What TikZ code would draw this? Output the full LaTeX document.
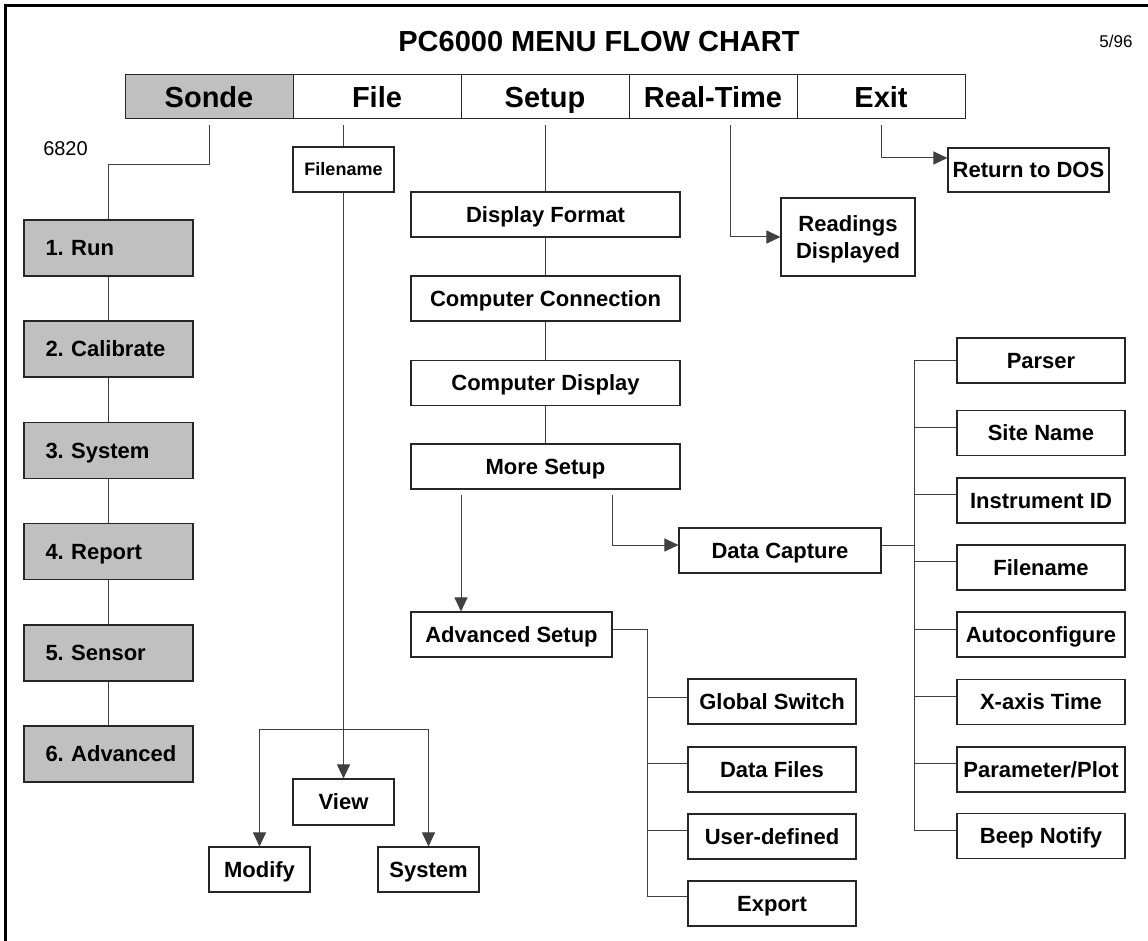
\documentclass[tikz,border=0pt]{standalone}
\usepackage{fontspec}
\setmainfont{Liberation Sans}
\usetikzlibrary{arrows.meta}
\definecolor{menugray}{HTML}{C0C0C0}
\begin{document}
\frenchspacing
\hyphenpenalty=10000
\hbadness=10000
\hfuzz=20pt
\begin{tikzpicture}[x=1pt,y=-1pt,
  box/.style={draw=black!85, line width=1.1pt, fill=white, minimum height=45pt, inner sep=0pt,
    text height=15.8pt, text depth=0pt,
    font=\fontsize{22}{27}\selectfont\bfseries},
  gbox/.style={box, fill=menugray, minimum height=56pt, text width=126pt, inner xsep=21.5pt, align=left},
  menu/.style={draw=black!85, line width=1pt, minimum width=168pt, minimum height=44pt, inner sep=0pt,
    text height=20.8pt, text depth=0pt,
    font=\fontsize{29}{32}\selectfont\bfseries},
  conn/.style={draw=black!75, line width=1pt},
  arr/.style={conn, -{Triangle[length=14pt,width=13pt]}},
  ]
\useasboundingbox (0,0) rectangle (1148,941);
% frame
\draw[line width=3pt] (5.5,941) -- (5.5,5.5) -- (1148,5.5);
% title
\node[font=\fontsize{29}{32}\selectfont\bfseries] (title) at (599,42) {PC6000 MENU FLOW CHART};
\node[font=\fontsize{17}{20}\selectfont] (date) at (1116,41) {5/96};
\node[font=\fontsize{20}{24}\selectfont] (model) at (65.5,149) {6820};
% menu bar
\node[menu, fill=menugray] (sonde) at (209,97) {Sonde};
\node[menu] (file) at (377,97) {File};
\node[menu] (setup) at (545,97) {Setup};
\node[menu] (rt) at (713,97) {Real-Time};
\node[menu] (exit) at (881,97) {Exit};
% Sonde column
\node[gbox] (s1) at (108.5,248) {1.~Run};
\node[gbox] (s2) at (108.5,349) {2.~Calibrate};
\node[gbox] (s3) at (108.5,450.5) {3.~System};
\node[gbox] (s4) at (108.5,551.5) {4.~Report};
\node[gbox] (s5) at (108.5,653) {5.~Sensor};
\node[gbox] (s6) at (108.5,754) {6.~Advanced};
\draw[conn] (209,125) -- (209,165) -| (s1.north);
\draw[conn] (s1.south) -- (s2.north);
\draw[conn] (s2.south) -- (s3.north);
\draw[conn] (s3.south) -- (s4.north);
\draw[conn] (s4.south) -- (s5.north);
\draw[conn] (s5.south) -- (s6.north);
% File column
\node[box, minimum width=101pt, text height=12.9pt, font=\fontsize{18}{20}\selectfont\bfseries] (fname) at (343.5,169.5) {Filename};
\node[box, minimum width=101pt, minimum height=46pt] (view) at (343.5,802) {View};
\node[box, minimum width=101pt] (modify) at (259.5,869.5) {Modify};
\node[box, minimum width=101pt] (fsys) at (428.5,869.5) {System};
\draw[conn] (343.5,125) -- (fname.north);
\draw[arr] (fname.south) -- (view.north);
\coordinate (fb) at (343.5,729);
\draw[arr] (fb) -| (modify.north);
\draw[arr] (fb) -| (fsys.north);
% Setup column
\node[box, minimum width=269pt] (df) at (545.5,214.5) {Display Format};
\node[box, minimum width=269pt] (cc) at (545.5,298.5) {Computer Connection};
\node[box, minimum width=269pt] (cd) at (545.5,383) {Computer Display};
\node[box, minimum width=269pt] (ms) at (545.5,466.5) {More Setup};
\draw[conn] (545.5,125) -- (df.north);
\draw[conn] (df.south) -- (cc.north);
\draw[conn] (cc.south) -- (cd.north);
\draw[conn] (cd.south) -- (ms.north);
\node[box, minimum width=201pt] (adv) at (511.5,634.5) {Advanced Setup};
\node[box, minimum width=202pt] (dc) at (780,550.5) {Data Capture};
\draw[arr] (461,495) -- (adv.north -| 461,0);
\draw[arr] (612,495) |- (dc.west |- 0,545);
% Advanced setup branches
\node[box, minimum width=168pt] (gs) at (772,701.5) {Global Switch};
\node[box, minimum width=168pt] (dfiles) at (772,769.5) {Data Files};
\node[box, minimum width=168pt] (ud) at (772,836.5) {User-defined};
\node[box, minimum width=168pt] (exp) at (772,903.5) {Export};
\draw[conn] (adv.east |- 0,629) -| (647,896);
\draw[conn] (647,697) -- (gs.west |- 0,697);
\draw[conn] (647,763) -- (dfiles.west |- 0,763);
\draw[conn] (647,830) -- (ud.west |- 0,830);
\draw[conn] (647,896) -- (exp.west |- 0,896);
% Data capture branches
\node[box, minimum width=168pt] (parser) at (1041,360.5) {Parser};
\node[box, minimum width=168pt] (site) at (1041,433) {Site Name};
\node[box, minimum width=168pt] (inst) at (1041,500.5) {Instrument ID};
\node[box, minimum width=168pt] (dfn) at (1041,567.5) {Filename};
\node[box, minimum width=168pt] (auto) at (1041,634.5) {Autoconfigure};
\node[box, minimum width=168pt] (xax) at (1041,702) {X-axis Time};
\node[box, minimum width=168pt] (pp) at (1041,769.5) {Parameter/Plot};
\node[box, minimum width=168pt] (beep) at (1041,836) {Beep Notify};
\draw[conn] (dc.east |- 0,545) -- (914,545);
\draw[conn] (914,360) -- (914,830);
\draw[conn] (914,360) -- (parser.west |- 0,360);
\draw[conn] (914,427) -- (site.west |- 0,427);
\draw[conn] (914,494) -- (inst.west |- 0,494);
\draw[conn] (914,561) -- (dfn.west |- 0,561);
\draw[conn] (914,629) -- (auto.west |- 0,629);
\draw[conn] (914,696) -- (xax.west |- 0,696);
\draw[conn] (914,763) -- (pp.west |- 0,763);
\draw[conn] (914,830) -- (beep.west |- 0,830);
% Real-Time and Exit
\node[box, minimum width=134pt, minimum height=78pt, align=center, text height=42.8pt, text depth=0pt] (rd) at (848,237) {Readings\\Displayed};
\node[box, minimum width=161pt, minimum height=44pt] (dos) at (1028.5,170) {Return to DOS};
\draw[arr] (730,125) |- (rd.west);
\draw[arr] (881,125) |- (dos.west |- 0,158);
\end{tikzpicture}
\end{document}
